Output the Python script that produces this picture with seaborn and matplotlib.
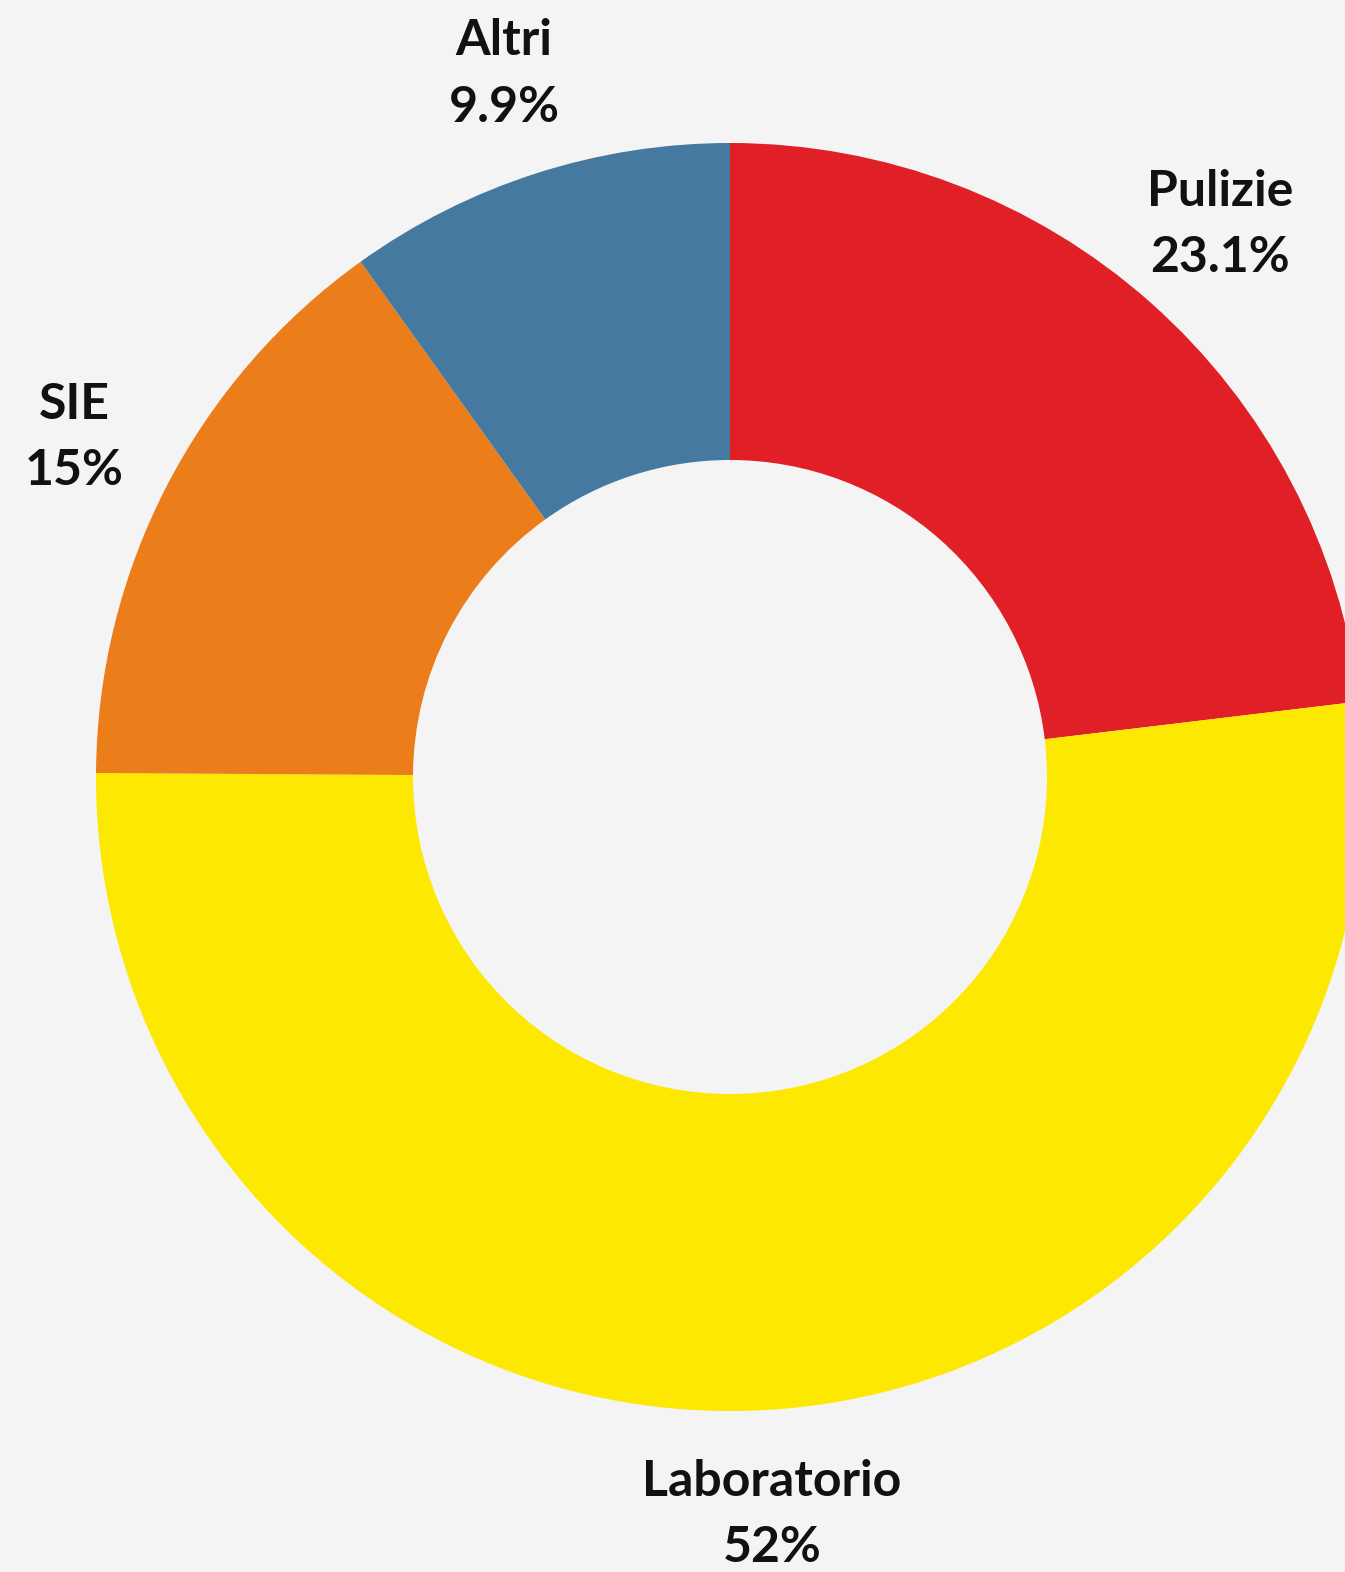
import matplotlib
matplotlib.use("Agg")
import matplotlib.pyplot as plt
import seaborn as sns

# Dati
categorie = ["Pulizie", "Laboratorio", "SIE", "Altri"]
percentuali = [23.1, 52, 15, 9.9]
etichette_pct = ["23.1%", "52%", "15%", "9.9%"]
colori = ["#e02026", "#fde802", "#eb7d1b", "#46799f"]

sns.set_style("white", {"axes.facecolor": "#f4f4f4", "figure.facecolor": "#f4f4f4"})
plt.rcParams["font.family"] = ["Lato", "DejaVu Sans"]

W, H = 1345, 1572
fig = plt.figure(figsize=(W / 100, H / 100), dpi=100)
fig.patch.set_facecolor("#f4f4f4")
ax = fig.add_axes([0, 0, 1, 1])
ax.set_facecolor("#f4f4f4")

etichette = [f"{c}\n{p}" for c, p in zip(categorie, etichette_pct)]

# ciambella: parte dall'alto in senso orario
wedges, testi = ax.pie(
    percentuali,
    labels=etichette,
    colors=colori,
    startangle=90,
    counterclock=False,
    radius=634,
    center=(730, H - 777),
    labeldistance=1.165,
    wedgeprops={"width": 317, "linewidth": 0},
    frame=True,
)

for t in testi:
    t.set_ha("center")
    t.set_va("center")
    t.set_fontsize(36)
    t.set_fontweight("bold")
    t.set_linespacing(1.58)
    t.set_color("#111111")

ax.set_xlim(0, W)
ax.set_ylim(0, H)
ax.set_aspect("equal")
ax.axis("off")

fig.savefig("out.png", dpi=100, facecolor="#f4f4f4")
